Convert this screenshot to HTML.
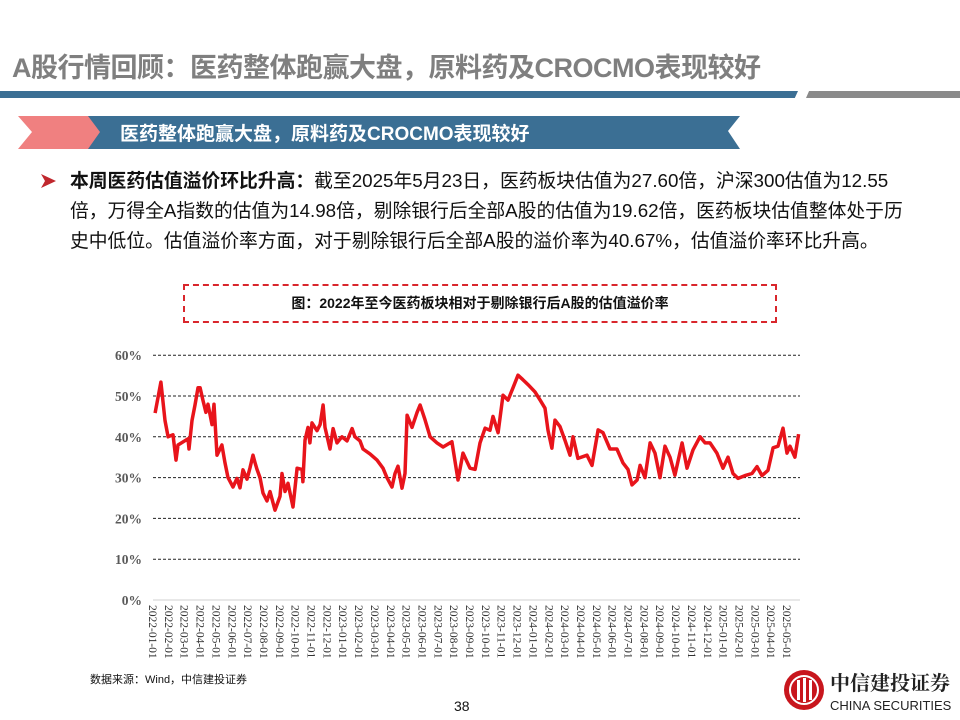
<!DOCTYPE html>
<html><head><meta charset="utf-8">
<style>
body{margin:0;width:960px;height:720px;background:#fff;position:relative;overflow:hidden;font-family:"Liberation Sans","Noto Sans CJK SC",sans-serif}
.abs{position:absolute}
#title{left:12px;top:46px;font-size:27px;font-weight:bold;color:#7f7f7f;letter-spacing:-0.5px;white-space:nowrap}
#bullet{left:70px;top:166px;font-size:18.8px;line-height:30px;color:#111;white-space:nowrap}
#caption{left:183px;top:284px;width:590px;height:35px;border:2px dashed #d9262c;font-size:14px;font-weight:bold;text-align:center;line-height:35px;color:#111}
</style></head><body>
<div id="title" class="abs">A股行情回顾：医药整体跑赢大盘，原料药及CROCMO表现较好</div>
<div class="abs" style="left:0;top:91px;width:798px;height:7px;background:#3b6f94;clip-path:polygon(0 0,100% 0,99.6% 100%,0 100%)"></div>
<div class="abs" style="left:806px;top:91px;width:154px;height:7px;background:#8a8a8a;clip-path:polygon(2% 0,100% 0,100% 100%,0 100%)"></div>
<svg class="abs" style="left:0;top:112px" width="760" height="40">
<polygon points="88,4 740,4 728,19 740,37 88,37" fill="#3b6f94"/>
<polygon points="18,4 88,4 100,20 88,37 18,37 32,20" fill="#f08080"/>
<text x="120" y="28" font-size="19" font-weight="bold" fill="#fff" font-family="Liberation Sans,Noto Sans CJK SC,sans-serif">医药整体跑赢大盘，原料药及CROCMO表现较好</text>
</svg>
<svg class="abs" style="left:40px;top:172px" width="18" height="18"><polygon points="1,2 16,9 1,16 5,9" fill="#c0272d"/></svg>
<div id="bullet" class="abs"><b>本周医药估值溢价环比升高：</b>截至2025年5月23日，医药板块估值为27.60倍，沪深300估值为12.55<br>倍，万得全A指数的估值为14.98倍，剔除银行后全部A股的估值为19.62倍，医药板块估值整体处于历<br>史中低位。估值溢价率方面，对于剔除银行后全部A股的溢价率为40.67%，估值溢价率环比升高。</div>
<div id="caption" class="abs">图：2022年至今医药板块相对于剔除银行后A股的估值溢价率</div>
<svg id="chart" class="abs" style="left:0;top:0" width="960" height="720"></svg>
<div class="abs" style="left:90px;top:671px;font-size:11px;color:#111">数据来源：Wind，中信建投证券</div>
<div class="abs" style="left:454px;top:698px;font-size:14px;color:#111">38</div>
<svg class="abs" style="left:780px;top:660px" width="180" height="60">
<circle cx="24" cy="30" r="20" fill="#c8161d"/>
<circle cx="24" cy="30" r="14" fill="none" stroke="#fff" stroke-width="2"/>
<rect x="17" y="20" width="3" height="20" fill="#fff"/><rect x="23" y="18" width="3" height="24" fill="#fff"/><rect x="29" y="20" width="3" height="20" fill="#fff"/>
<text x="50" y="30" font-size="20" font-weight="bold" fill="#222" font-family="Noto Serif CJK SC,serif">中信建投证券</text>
<text x="50" y="50" font-size="13" fill="#222" font-family="Liberation Sans,sans-serif">CHINA SECURITIES</text>
</svg>
<script>
const yTicks=[0,10,20,30,40,50,60];
const monthLabels=[];
for(let y=2022;y<=2025;y++)for(let m=1;m<=12;m++){if(y===2025&&m>5)break;monthLabels.push(y+'-'+String(m).padStart(2,'0')+'-01');}
const monthOffsets=[0.13,0.5,0.76,0.95,1.26,1.45,1.58,2.21,2.27,2.46,2.65,2.84,2.97,3.15,3.34,3.47,3.72,3.85,4.04,4.35,4.54,4.73,5.05,5.3,5.49,5.68,5.93,6.12,6.31,6.44,6.56,6.75,6.94,7.19,7.38,7.7,8.01,8.14,8.33,8.52,8.83,9.09,9.4,9.46,9.59,9.78,9.9,10.03,10.35,10.54,10.73,10.85,11.17,11.36,11.61,11.92,12.24,12.56,12.74,13.06,13.25,13.69,14.13,14.51,14.76,15.08,15.27,15.46,15.71,15.9,16.03,16.34,16.66,16.85,17.16,17.48,17.92,18.3,18.86,19.24,19.56,20,20.32,20.63,20.95,21.26,21.45,21.77,22.08,22.4,22.71,23.03,23.34,23.66,24.1,24.42,24.73,24.92,25.17,25.36,25.68,25.99,26.31,26.5,26.81,27.38,27.7,28.08,28.39,28.83,29.27,29.65,29.97,30.22,30.54,30.73,31.04,31.36,31.67,31.99,32.3,32.62,32.93,33.38,33.69,34.07,34.51,34.83,35.14,35.58,35.96,36.28,36.59,36.91,37.35,37.79,38.11,38.42,38.8,39.12,39.43,39.75,40,40.19,40.5,40.73];
const premiumValues=[45.8,53.4,44,40,40.5,34.3,38,39.5,37,44,47.8,52,52,49,46,48,43,48,35.5,38,33.6,30,27.7,29.8,27.5,31.9,29.6,32.4,35.5,33.6,32,30,26.2,24.3,26.6,22,25.4,31,26.6,28.6,22.8,32.3,32,29,39.2,42.3,38.5,43.4,41.5,43,47.8,42.3,37,42,38.5,40,39,42,40,39,37,35.8,34.3,32.3,30,27.7,31,32.8,27.4,31,45.3,42.3,46,47.8,44.2,40,38.5,37.5,38.8,29.4,36,32.3,32,38.5,42.1,41.6,45,41,50.2,49,52,55.1,54,52.8,51,49,47,41.6,37.2,44.1,42.5,39.2,35.5,40,34.7,35.5,33,41.7,41,37,37,33.6,32,28.2,29.4,33,30,38.5,36,30,37.7,35,30.6,38.5,32.3,36.8,40,38.5,38.5,36,32.3,35,31,29.8,30.5,31,32.7,30.5,31.8,37.3,37.7,42.1,36,37.7,35,40.67];
const svg=document.getElementById('chart');const NS='http://www.w3.org/2000/svg';
const X0=153,PX=15.85,Y0=600,PY=4.08,XR=800;
const xs=m=>X0+m*PX, ys=v=>Y0-v*PY;
function mk(t,a){const e=document.createElementNS(NS,t);for(const k in a)e.setAttribute(k,a[k]);svg.appendChild(e);return e;}
yTicks.forEach(v=>{
 const l=mk('line',{x1:X0,x2:XR,y1:ys(v),y2:ys(v),stroke:v===0?'#d0d0d0':'#222','stroke-width':1,'stroke-dasharray':v===0?'':'3,2'});
 
 
 const t=mk('text',{x:142,y:ys(v)+5,'text-anchor':'end','font-size':13.5,'font-weight':'bold',fill:'#595959','font-family':'Liberation Serif,serif'});
 t.textContent=v+'%';
 
 
});
monthLabels.forEach((s,i)=>{
 const x=xs(i);
 const t=mk('text',{x:0,y:0,'font-size':11.5,fill:'#333','font-family':'Liberation Serif,serif',transform:`translate(${x-4},605) rotate(90)`});
 t.textContent=s;
 
 
});
const pts=monthOffsets.map((m,i)=>xs(m).toFixed(1)+','+ys(premiumValues[i]).toFixed(1)).join(' ');
const pl=mk('polyline',{points:pts,fill:'none',stroke:'#e8141b','stroke-width':3.5,'stroke-linejoin':'round'});


</script>
</body></html>
